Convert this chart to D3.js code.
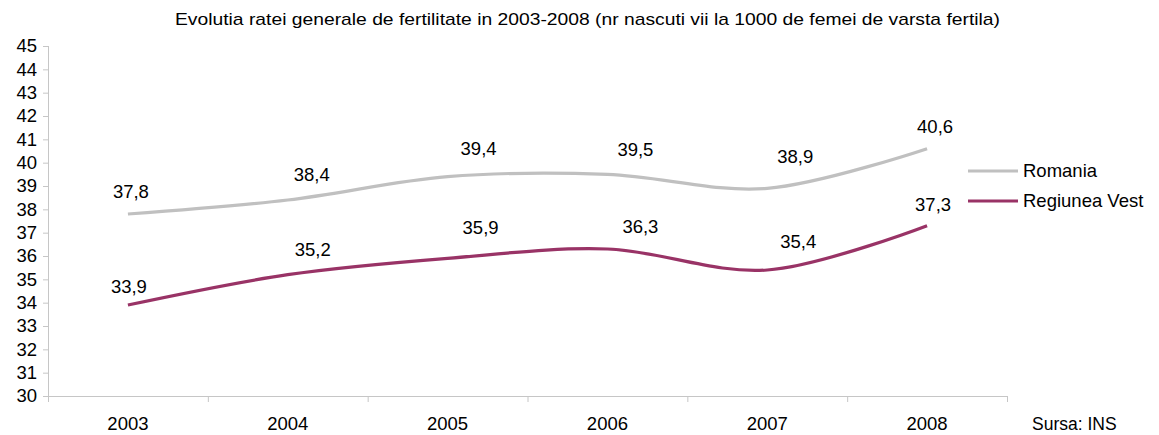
<!DOCTYPE html>
<html lang="ro">
<head>
<meta charset="utf-8">
<title>Evolutia ratei generale de fertilitate</title>
<script src="https://cdn.jsdelivr.net/npm/d3@7"></script>
<style>
  html, body { margin: 0; padding: 0; background: #fff; overflow: hidden; }
  svg { display: block; font-family: "Liberation Sans", Arial, sans-serif; }
  .axis path, .axis line { stroke: #c6c6c6; }
  .axis text { fill: #000; font-size: 18.5px; }
</style>
</head>
<body>
<svg width="1159" height="435"></svg>
<script>
  // data
  const years = ["2003", "2004", "2005", "2006", "2007", "2008"];
  const romania = [37.8, 38.4, 39.4, 39.5, 38.9, 40.6];
  const vest = [33.9, 35.2, 35.9, 36.3, 35.4, 37.3];
  const seriesNames = ["Romania", "Regiunea Vest"];
  const yTicks = d3.range(30, 46);

  const title = "Evolutia ratei generale de fertilitate in 2003-2008 (nr nascuti vii la 1000 de femei de varsta fertila)";

  const colors = ["#c0c0c0", "#993366"];
  // label nudges (Excel labels were moved by hand)
  const labelNudge = [
    [[3, -22], [24, -25], [31, -28], [28, -25], [28, -32], [8, -22]],
    [[1, -18], [25, -25], [33, -31], [33, -22], [31, -28], [6, -21]]
  ];

  const svg = d3.select("svg");
  const plotL = 48, plotR = 1007, plotT = 46, plotB = 396;

  const x = d3.scaleBand().domain(years).range([plotL, plotR]);
  const y = d3.scaleLinear().domain([30, 45]).range([plotB, plotT]);

  svg.append("text")
    .attr("x", 175).attr("y", 25)
    .attr("textLength", 825)
    .attr("lengthAdjust", "spacingAndGlyphs")
    .style("font-size", "17px")
    .text(title);

  // y axis
  const yAxis = svg.append("g")
    .attr("class", "axis")
    .attr("transform", `translate(${plotL},0)`)
    .call(d3.axisLeft(y).tickValues(yTicks).tickSize(5).tickPadding(6).tickFormat(d3.format("d")));
  yAxis.select(".domain").attr("d", `M0.5,${plotT}V${plotB}`);

  // x axis, ticks between categories
  const xAxis = svg.append("g")
    .attr("class", "axis")
    .attr("transform", `translate(0,${plotB})`)
    .call(d3.axisBottom(x).tickSize(0).tickPadding(21));
  xAxis.select(".domain").attr("d", `M${plotL},0.5H${plotR}`);
  xAxis.selectAll(".sep")
    .data(years.map(d => x(d)).concat([plotR]))
    .enter().append("line")
    .attr("x1", d => d + 0.5).attr("x2", d => d + 0.5)
    .attr("y1", 0).attr("y2", 6)
    .attr("stroke", "#c6c6c6");

  const cx = d => x(d) + x.bandwidth() / 2;
  const line = d3.line()
    .x((d, i) => cx(years[i]))
    .y(d => y(d))
    .curve(d3.curveCatmullRom.alpha(0));

  [romania, vest].forEach((vals, s) => {
    svg.append("path")
      .datum(vals)
      .attr("fill", "none")
      .attr("stroke", colors[s])
      .attr("stroke-width", 3.2)
      .attr("stroke-linejoin", "round")
      .attr("d", line);

    svg.selectAll(".lbl" + s)
      .data(vals)
      .enter().append("text")
      .attr("x", (d, i) => cx(years[i]) + labelNudge[s][i][0])
      .attr("y", (d, i) => y(d) + labelNudge[s][i][1])
      .attr("dy", "0.35em")
      .attr("text-anchor", "middle")
      .style("font-size", "18.5px")
      .text(d => d3.format(".1f")(d).replace(".", ","));
  });

  // legend
  const legend = svg.append("g").attr("transform", "translate(968,171)");
  seriesNames.forEach((name, i) => {
    const g = legend.append("g").attr("transform", `translate(0,${i * 30})`);
    g.append("line")
      .attr("x1", 0).attr("x2", 50)
      .attr("stroke", colors[i]).attr("stroke-width", 3.2);
    g.append("text")
      .attr("x", 55).attr("dy", "0.35em")
      .style("font-size", "18.5px")
      .text(name);
  });

  svg.append("text")
    .attr("x", 1032).attr("y", 430)
    .style("font-size", "17.5px")
    .text("Sursa: INS");
</script>
</body>
</html>
